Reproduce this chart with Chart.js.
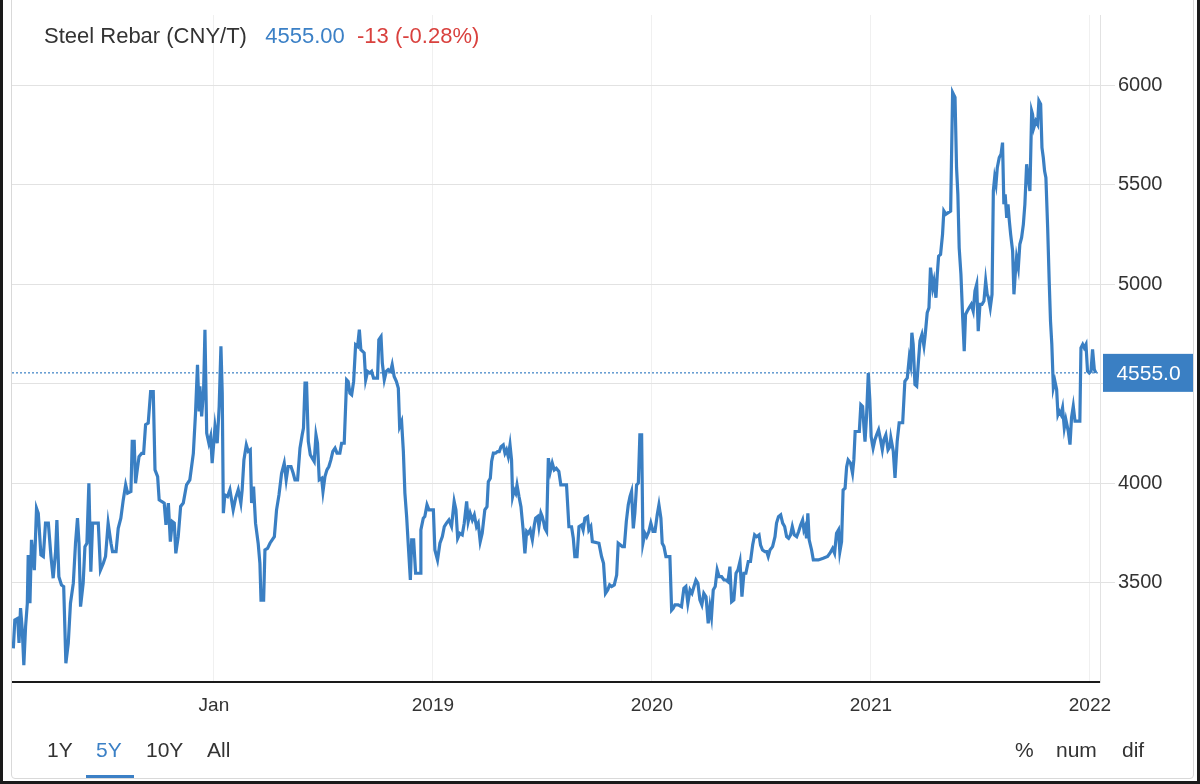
<!DOCTYPE html>
<html>
<head>
<meta charset="utf-8">
<title>Steel Rebar</title>
<script src="https://cdn.jsdelivr.net/npm/chart.js@4.4.1/dist/chart.umd.min.js"></script>
<style>
    html, body { margin: 0; padding: 0; background: #fff; }
    body { width: 1200px; height: 784px; position: relative; overflow: hidden; font-family: "Liberation Sans", Arial, sans-serif; }
    #chart { position: absolute; left: 0; top: 0; }
    .widget { position: absolute; left: 11px; top: -10px; width: 1181px; height: 787px; border: 1px solid #d9d9d9; border-radius: 4px; pointer-events: none; }
    .frame { position: absolute; left: 0; top: 0; width: 1194px; height: 781px; border-left: 3px solid #1a1a1a; border-right: 3px solid #1a1a1a; border-bottom: 3px solid #1a1a1a; pointer-events: none; }
    .title { position: absolute; left: 44px; top: 24px; font-size: 22px; line-height: 24px; white-space: pre; color: #333; }
    .title .last { color: #3b80c6; }
    .title .chg { color: #d9413e; }
    .btn { position: absolute; top: 738px; font-size: 21px; line-height: 24px; color: #333; }
    .btn.on { color: #3b80c6; }
    .bar { position: absolute; left: 86px; top: 775px; width: 48px; height: 3px; background: #3b80c6; }
</style>
</head>
<body>
<canvas id="chart" width="1200" height="784"></canvas>
<div class="title">Steel Rebar (CNY/T)   <span class="last">4555.00</span>  <span class="chg">-13 (-0.28%)</span></div>
<div class="btn" style="left:47px">1Y</div>
<div class="btn on" style="left:96px">5Y</div>
<div class="btn" style="left:146px">10Y</div>
<div class="btn" style="left:207px">All</div>
<div class="bar"></div>
<div class="btn" style="left:1015px">%</div>
<div class="btn" style="left:1056px">num</div>
<div class="btn" style="left:1122px">dif</div>
<div class="widget"></div>
<div class="frame"></div>
<script>
// dates as decimal years, prices in CNY/T
const dates = [
    2017.084, 2017.091, 2017.104, 2017.110, 2017.117, 2017.125, 2017.132, 2017.140, 2017.148, 2017.152,
    2017.160, 2017.167, 2017.180, 2017.190, 2017.198, 2017.210, 2017.221, 2017.231, 2017.244, 2017.256,
    2017.266, 2017.277, 2017.283, 2017.292, 2017.304, 2017.314, 2017.324, 2017.335, 2017.345, 2017.358,
    2017.368, 2017.377, 2017.384, 2017.391, 2017.403, 2017.411, 2017.420, 2017.429, 2017.438, 2017.446,
    2017.460, 2017.472, 2017.482, 2017.495, 2017.505, 2017.517, 2017.530, 2017.537, 2017.553, 2017.563,
    2017.575, 2017.586, 2017.597, 2017.606, 2017.621, 2017.627, 2017.636, 2017.642, 2017.650, 2017.658,
    2017.670, 2017.679, 2017.688, 2017.700, 2017.711, 2017.723, 2017.731, 2017.743, 2017.750, 2017.761,
    2017.773, 2017.781, 2017.792, 2017.801, 2017.810, 2017.819, 2017.826, 2017.837, 2017.848, 2017.860,
    2017.875, 2017.890, 2017.906, 2017.916, 2017.925, 2017.932, 2017.936, 2017.944, 2017.953, 2017.959,
    2017.967, 2017.977, 2017.985, 2017.992, 2018.005, 2018.015, 2018.024, 2018.032, 2018.038, 2018.043,
    2018.050, 2018.062, 2018.073, 2018.088, 2018.099, 2018.111, 2018.123, 2018.129, 2018.137, 2018.148,
    2018.157, 2018.166, 2018.172, 2018.181, 2018.190, 2018.202, 2018.210, 2018.215, 2018.227, 2018.233,
    2018.245, 2018.256, 2018.266, 2018.276, 2018.286, 2018.297, 2018.309, 2018.321, 2018.330, 2018.339,
    2018.352, 2018.362, 2018.370, 2018.382, 2018.393, 2018.403, 2018.409, 2018.416, 2018.423, 2018.431,
    2018.440, 2018.449, 2018.458, 2018.466, 2018.473, 2018.481, 2018.492, 2018.498, 2018.507, 2018.516,
    2018.525, 2018.534, 2018.543, 2018.553, 2018.562, 2018.575, 2018.583, 2018.595, 2018.606, 2018.613,
    2018.621, 2018.629, 2018.638, 2018.647, 2018.656, 2018.664, 2018.671, 2018.679, 2018.686, 2018.693,
    2018.702, 2018.712, 2018.720, 2018.729, 2018.738, 2018.747, 2018.753, 2018.763, 2018.769, 2018.778,
    2018.787, 2018.796, 2018.807, 2018.814, 2018.823, 2018.833, 2018.842, 2018.848, 2018.857, 2018.865,
    2018.872, 2018.880, 2018.887, 2018.897, 2018.903, 2018.912, 2018.921, 2018.941, 2018.945, 2018.956,
    2018.963, 2018.973, 2018.982, 2019.002, 2019.009, 2019.021, 2019.032, 2019.043, 2019.052, 2019.062,
    2019.073, 2019.085, 2019.097, 2019.105, 2019.113, 2019.123, 2019.134, 2019.143, 2019.154, 2019.161,
    2019.170, 2019.180, 2019.189, 2019.199, 2019.207, 2019.216, 2019.225, 2019.237, 2019.247, 2019.253,
    2019.262, 2019.268, 2019.276, 2019.286, 2019.295, 2019.303, 2019.311, 2019.321, 2019.329, 2019.336,
    2019.344, 2019.352, 2019.359, 2019.364, 2019.371, 2019.378, 2019.384, 2019.393, 2019.402, 2019.412,
    2019.420, 2019.428, 2019.435, 2019.444, 2019.454, 2019.463, 2019.469, 2019.478, 2019.484, 2019.493,
    2019.499, 2019.505, 2019.511, 2019.519, 2019.527, 2019.536, 2019.545, 2019.554, 2019.563, 2019.575,
    2019.584, 2019.610, 2019.621, 2019.633, 2019.641, 2019.648, 2019.658, 2019.667, 2019.679, 2019.686,
    2019.694, 2019.706, 2019.712, 2019.721, 2019.728, 2019.758, 2019.770, 2019.779, 2019.788, 2019.798,
    2019.807, 2019.816, 2019.828, 2019.839, 2019.846, 2019.865, 2019.874, 2019.883, 2019.892, 2019.900,
    2019.907, 2019.915, 2019.922, 2019.930, 2019.938, 2019.945, 2019.953, 2019.959, 2019.968, 2019.976,
    2019.986, 2019.995, 2020.005, 2020.014, 2020.024, 2020.032, 2020.041, 2020.047, 2020.055, 2020.064,
    2020.082, 2020.090, 2020.097, 2020.105, 2020.120, 2020.135, 2020.146, 2020.155, 2020.164, 2020.174,
    2020.183, 2020.192, 2020.201, 2020.210, 2020.219, 2020.228, 2020.237, 2020.247, 2020.257, 2020.265,
    2020.272, 2020.280, 2020.289, 2020.298, 2020.307, 2020.318, 2020.329, 2020.338, 2020.347, 2020.356,
    2020.364, 2020.374, 2020.384, 2020.393, 2020.402, 2020.411, 2020.420, 2020.429, 2020.440, 2020.450,
    2020.460, 2020.469, 2020.478, 2020.489, 2020.496, 2020.505, 2020.516, 2020.524, 2020.531, 2020.539,
    2020.551, 2020.562, 2020.569, 2020.578, 2020.588, 2020.597, 2020.606, 2020.615, 2020.624, 2020.633,
    2020.641, 2020.650, 2020.661, 2020.670, 2020.679, 2020.688, 2020.694, 2020.700, 2020.706, 2020.712,
    2020.718, 2020.729, 2020.737, 2020.760, 2020.782, 2020.802, 2020.813, 2020.825, 2020.834, 2020.843,
    2020.852, 2020.858, 2020.866, 2020.873, 2020.882, 2020.889, 2020.896, 2020.907, 2020.916, 2020.922,
    2020.928, 2020.937, 2020.947, 2020.954, 2020.962, 2020.968, 2020.973, 2020.980, 2020.988, 2020.995,
    2021.001, 2021.010, 2021.018, 2021.026, 2021.035, 2021.044, 2021.052, 2021.059, 2021.068, 2021.078,
    2021.087, 2021.091, 2021.102, 2021.110, 2021.120, 2021.129, 2021.145, 2021.155, 2021.166, 2021.175,
    2021.181, 2021.187, 2021.193, 2021.201, 2021.209, 2021.216, 2021.224, 2021.233, 2021.242, 2021.248,
    2021.257, 2021.265, 2021.272, 2021.282, 2021.288, 2021.297, 2021.303, 2021.309, 2021.318, 2021.327,
    2021.333, 2021.342, 2021.364, 2021.373, 2021.384, 2021.391, 2021.397, 2021.403, 2021.411, 2021.419,
    2021.426, 2021.432, 2021.440, 2021.449, 2021.458, 2021.467, 2021.475, 2021.483, 2021.490, 2021.498,
    2021.507, 2021.516, 2021.524, 2021.531, 2021.537, 2021.545, 2021.553, 2021.559, 2021.565, 2021.571,
    2021.577, 2021.586, 2021.594, 2021.601, 2021.607, 2021.613, 2021.620, 2021.626, 2021.632, 2021.638,
    2021.647, 2021.653, 2021.659, 2021.665, 2021.673, 2021.680, 2021.688, 2021.696, 2021.703, 2021.711,
    2021.718, 2021.726, 2021.734, 2021.738, 2021.744, 2021.753, 2021.761, 2021.767, 2021.775, 2021.781,
    2021.787, 2021.793, 2021.799, 2021.807, 2021.814, 2021.820, 2021.826, 2021.833, 2021.840, 2021.848,
    2021.854, 2021.860, 2021.868, 2021.875, 2021.883, 2021.890, 2021.901, 2021.909, 2021.916, 2021.924,
    2021.932, 2021.954, 2021.959, 2021.967, 2021.974, 2021.982, 2021.989, 2021.997, 2022.005, 2022.012,
    2022.020, 2022.027
];
const prices = [
    3169, 3312, 3320, 3196, 3372, 3261, 3085, 3278, 3396, 3639,
    3396, 3715, 3563, 3874, 3849, 3639, 3631, 3799, 3799, 3631,
    3522, 3656, 3815, 3530, 3488, 3480, 3094, 3196, 3396, 3497,
    3698, 3824, 3698, 3379, 3497, 3681, 3698, 4000, 3555, 3799,
    3799, 3799, 3563, 3597, 3631, 3799, 3698, 3656, 3656, 3773,
    3824, 3916, 3992, 3950, 3958, 4210, 4210, 4000, 4067, 4134,
    4150, 4150, 4294, 4302, 4461, 4461, 4067, 4033, 3916, 3908,
    3900, 3790, 3900, 3706, 3807, 3799, 3647, 3731, 3883, 3900,
    3992, 4017, 4150, 4352, 4596, 4369, 4487, 4336, 4470, 4772,
    4252, 4201, 4235, 4101, 4285, 4201, 4386, 4688, 4453, 3849,
    3941, 3933, 3967, 3866, 3925, 3967, 3900, 3967, 4117, 4193,
    4160, 4168, 3900, 3983, 3799, 3698, 3597, 3412, 3412, 3664,
    3672, 3698, 3715, 3731, 3866, 3941, 4050, 4101, 4017, 4084,
    4084, 4050, 4017, 4017, 4176, 4243, 4277, 4503, 4503, 4210,
    4143, 4126, 4109, 4243, 4201, 4017, 4025, 3958, 4033, 4067,
    4084, 4117, 4160, 4176, 4151, 4151, 4201, 4201, 4520, 4512,
    4453, 4445, 4512, 4696, 4688, 4772, 4671, 4663, 4655, 4520,
    4562, 4554, 4562, 4528, 4528, 4528, 4722, 4738, 4604, 4520,
    4562, 4571, 4562, 4596, 4537, 4512, 4478, 4285, 4310, 4160,
    3950, 3832, 3698, 3513, 3715, 3715, 3547, 3547, 3765, 3824,
    3832, 3891, 3866, 3866, 3664, 3614, 3698, 3731, 3782, 3799,
    3815, 3782, 3908, 3866, 3723, 3748, 3740, 3799, 3908, 3807,
    3849, 3815, 3840, 3782, 3799, 3706, 3748, 3866, 3882, 4008,
    4025, 4109, 4151, 4151, 4159, 4159, 4184, 4193, 4151, 4168,
    4134, 4193, 4117, 3933, 3966, 3950, 3991, 3933, 3882, 3765,
    3647, 3757, 3748, 3765, 3715, 3790, 3824, 3832, 3782, 3849,
    3832, 3807, 3773, 3757, 4126, 4059, 4101, 4067, 4075, 4059,
    3992, 3992, 3781, 3781, 3723, 3630, 3630, 3781, 3790, 3765,
    3824, 3832, 3765, 3782, 3706, 3698, 3631, 3597, 3446, 3463,
    3488, 3480, 3488, 3538, 3698, 3681, 3681, 3807, 3891, 3933,
    3958, 3773, 3849, 3991, 4000, 4243, 4243, 3698, 3748, 3731,
    3757, 3799, 3757, 3757, 3840, 3891, 3824, 3698, 3681, 3631,
    3631, 3362, 3371, 3388, 3388, 3379, 3471, 3480, 3396, 3463,
    3446, 3480, 3513, 3497, 3413, 3388, 3446, 3429, 3295, 3379,
    3329, 3463, 3480, 3564, 3530, 3530, 3513, 3513, 3505, 3580,
    3404, 3413, 3547, 3564, 3606, 3429, 3547, 3547, 3606, 3606,
    3689, 3740, 3731, 3740, 3689, 3664, 3656, 3656, 3631, 3664,
    3681, 3731, 3799, 3832, 3841, 3799, 3782, 3731, 3723, 3740,
    3782, 3740, 3731, 3757, 3790, 3815, 3765, 3782, 3723, 3849,
    3715, 3664, 3614, 3614, 3622, 3631, 3648, 3672, 3648, 3748,
    3765, 3655, 3706, 3966, 3975, 4081, 4117, 4101, 4051, 4117,
    4260, 4260, 4260, 4395, 4386, 4285, 4209, 4336, 4554, 4419,
    4235, 4177, 4218, 4243, 4268, 4218, 4168, 4218, 4243, 4168,
    4185, 4228, 4161, 4027, 4211, 4304, 4304, 4513, 4530, 4631,
    4597, 4757, 4698, 4496, 4488, 4597, 4716, 4748, 4690, 4748,
    4857, 4883, 5084, 4983, 5017, 4933, 5050, 5142, 5151, 5252,
    5369, 5353, 5369, 5965, 5940, 5587, 5453, 5184, 5050, 4832,
    4664, 4849, 4866, 4883, 4899, 4866, 4966, 5000, 4765, 4899,
    4899, 4916, 5017, 4950, 4933, 4883, 4950, 5470, 5537, 5503,
    5587, 5638, 5654, 5713, 5403, 5453, 5335, 5403, 5319, 5252,
    5168, 4950, 5050, 5134, 5084, 5202, 5235, 5302, 5403, 5604,
    5537, 5470, 5872, 5856, 5789, 5822, 5805, 5923, 5906, 5688,
    5638, 5570, 5537, 5285, 5017, 4815, 4698, 4480, 4513, 4471,
    4345, 4362, 4345, 4379, 4278, 4320, 4262, 4194, 4329, 4387,
    4312, 4312, 4681, 4698, 4681, 4698, 4564, 4555, 4564, 4673,
    4572, 4555
];

const xTicks = [2018, 2019, 2020, 2021, 2022];
const xTickLabels = ['Jan', '2019', '2020', '2021', '2022'];
const yTicks = [3500, 4000, 4500, 5000, 5500, 6000];

const xMin = 2017.078;
const xMax = 2022.046;
const lineColor = '#3a7fc3';
const lastPrice = prices[prices.length - 1];

// blue box with the last price on the right axis
const lastLabel = {
    id: 'lastLabel',
    afterDraw(chart) {
        const { ctx, chartArea } = chart;
        const y = chart.scales.y.getPixelForValue(lastPrice);
        ctx.save();
        ctx.fillStyle = lineColor;
        ctx.fillRect(chartArea.right + 3, y - 19, 91, 38);
        ctx.fillStyle = '#fff';
        ctx.font = '21px "Liberation Sans", Arial, sans-serif';
        ctx.textAlign = 'center';
        ctx.textBaseline = 'middle';
        ctx.fillText(lastPrice.toFixed(1), chartArea.right + 3 + 45.5, y + 1);
        ctx.restore();
    }
};

const ctx = document.getElementById('chart').getContext('2d');
new Chart(ctx, {
    type: 'line',
    data: {
        datasets: [{
            data: dates.map((d, i) => ({ x: d, y: prices[i] })),
            borderColor: lineColor,
            borderWidth: 3.2,
            pointRadius: 0,
            tension: 0,
            order: 1
        }, {
            data: [{ x: xMin, y: lastPrice }, { x: xMax, y: lastPrice }],
            borderColor: lineColor,
            borderWidth: 1.2,
            borderDash: [2, 2],
            pointRadius: 0,
            order: 2
        }]
    },
    options: {
        responsive: false,
        animation: false,
        layout: { autoPadding: false, padding: { left: 12, top: 7, right: 0, bottom: 0 } },
        plugins: {
            legend: { display: false },
            tooltip: { enabled: false }
        },
        scales: {
            x: {
                type: 'linear',
                min: xMin,
                max: xMax,
                afterBuildTicks: (scale) => { scale.ticks = xTicks.map(v => ({ value: v })); },
                afterFit: (scale) => { scale.height = 102; },
                ticks: {
                    autoSkip: false,
                    maxRotation: 0,
                    padding: 12,
                    color: '#333',
                    font: { family: '"Liberation Sans", Arial, sans-serif', size: 19 },
                    callback: (v) => xTickLabels[xTicks.indexOf(v)]
                },
                grid: { color: '#f0f0f0', drawTicks: false },
                border: { color: '#1a1a1a', width: 2 }
            },
            y: {
                position: 'right',
                min: 3000,
                max: 6355,
                afterBuildTicks: (scale) => { scale.ticks = yTicks.map(v => ({ value: v })); },
                afterFit: (scale) => { scale.width = 100; },
                ticks: {
                    padding: 3,
                    color: '#333',
                    font: { family: '"Liberation Sans", Arial, sans-serif', size: 20 },
                    callback: (v) => String(v)
                },
                grid: { color: '#e2e2e2', tickLength: 15 },
                border: { color: '#e2e2e2' }
            }
        }
    },
    plugins: [lastLabel]
});
</script>
</body>
</html>
